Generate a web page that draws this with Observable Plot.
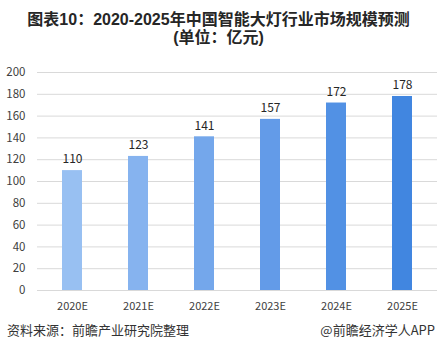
<!DOCTYPE html>
<html>
<head>
<meta charset="utf-8">
<script src="https://cdn.jsdelivr.net/npm/d3@7"></script>
<script src="https://cdn.jsdelivr.net/npm/@observablehq/plot@0.6"></script>
<style>
  html, body { margin: 0; padding: 0; background: #fff; }
  #wrap { position: relative; width: 437px; height: 359px; overflow: hidden; font-family: "Noto Sans CJK SC", "Noto Sans", sans-serif; }
  .title { position: absolute; left: 0; width: 437px; text-align: center; font-weight: bold; font-size: 16px; color: #262626; line-height: 18px; font-family: "Liberation Sans", "Noto Sans CJK SC", sans-serif; }
  .foot { position: absolute; font-size: 13px; color: #333; line-height: 14px; }
  #chart { position: absolute; left: 0; top: 0; }
</style>
</head>
<body>
<div id="wrap">
  <div id="chart"></div>
  <div class="title" style="top:11px">图表10：2020-2025年中国智能大灯行业市场规模预测</div>
  <div class="title" style="top:29px">(单位：亿元)</div>
  <div class="foot" style="left:7px; top:323px">资料来源：前瞻产业研究院整理</div>
  <div class="foot" style="right:2px; top:323px">@前瞻经济学人APP</div>
</div>
<script>
const years = ["2020E", "2021E", "2022E", "2023E", "2024E", "2025E"];
const values = [110, 123, 141, 157, 172, 178];
const barColors = ["#98c0f2", "#86b3ef", "#74a7eb", "#639be8", "#5291e4", "#4186e0"];
const yTicks = [0, 20, 40, 60, 80, 100, 120, 140, 160, 180, 200];

const data = years.map((y, i) => ({year: y, value: values[i], color: barColors[i]}));

const chart = Plot.plot({
  width: 437,
  height: 359,
  marginTop: 72,
  marginBottom: 69,
  marginLeft: 37,
  marginRight: 0,
  style: {fontFamily: '"Noto Sans CJK SC", "Noto Sans", sans-serif', fontSize: "11px", color: "#404040", background: "transparent"},
  x: {domain: years, padding: 0, label: null},
  y: {domain: [0, 200], label: null},
  marks: [
    Plot.gridY(yTicks, {stroke: "#d9d9d9", strokeOpacity: 1, strokeWidth: 1}),
    Plot.barY(data, {x: "year", y: "value", fill: "color", insetLeft: 23, insetRight: 23}),
    Plot.text(data, {x: "year", y: "value", text: d => String(d.value), dy: -11, fontSize: 12, fill: "#262626"}),
    Plot.axisY(yTicks, {tickSize: 0, tickPadding: 12, fontSize: 11.5, fill: "#404040"}),
    Plot.axisX({tickSize: 0, tickPadding: 12, fontSize: 11, fill: "#404040"})
  ]
});
document.getElementById("chart").appendChild(chart);
</script>
</body>
</html>
